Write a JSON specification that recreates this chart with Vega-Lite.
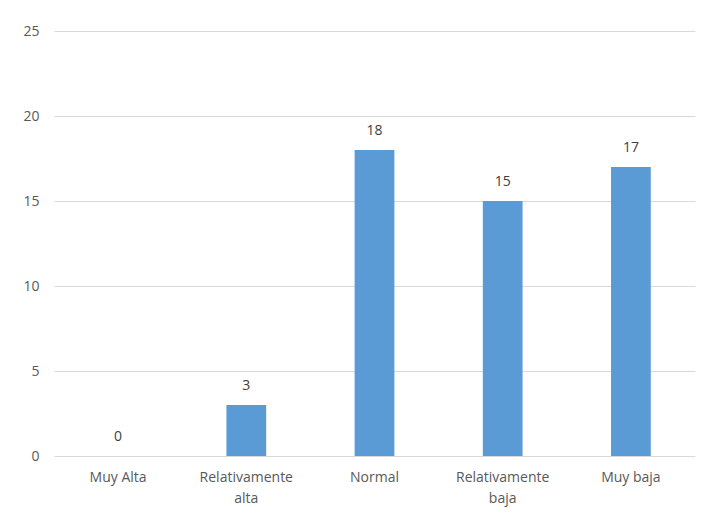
{
  "$schema": "https://vega.github.io/schema/vega-lite/v6.json",
  "width": 641,
  "height": 425,
  "autosize": "none",
  "padding": {"left": 54, "top": 31, "right": 10, "bottom": 57},
  "background": "white",
  "config": {"view": {"stroke": null}, "font": "Open Sans"},
  "data": {"values": [
    {"cat": "Muy Alta", "v": 0},
    {"cat": "Relativamente alta", "v": 3},
    {"cat": "Normal", "v": 18},
    {"cat": "Relativamente baja", "v": 15},
    {"cat": "Muy baja", "v": 17}
  ]},
  "encoding": {
    "x": {"field": "cat", "type": "nominal", "sort": null,
      "scale": {"paddingInner": 0.69, "paddingOuter": 0.345},
      "axis": {"title": null, "labelAngle": 0, "ticks": false, "domain": false,
        "labelColor": "#595959", "labelFontSize": 14, "labelPadding": 14, "labelLineHeight": 21,
        "labelExpr": "indexof(datum.label,'Relativamente')==0 ? split(datum.label,' ') : datum.label"}},
    "y": {"field": "v", "type": "quantitative",
      "scale": {"domain": [0, 25]},
      "axis": {"title": null, "values": [0,5,10,15,20,25], "ticks": false, "domain": false,
        "gridColor": "#d9d9d9", "labelColor": "#595959", "labelFontSize": 14, "labelPadding": 15}}
  },
  "layer": [
    {"mark": {"type": "bar", "color": "#5b9bd5"}},
    {"mark": {"type": "text", "dy": -12, "baseline": "bottom", "fontSize": 14, "color": "#404040"},
     "encoding": {"text": {"field": "v", "type": "quantitative"}}}
  ]
}
